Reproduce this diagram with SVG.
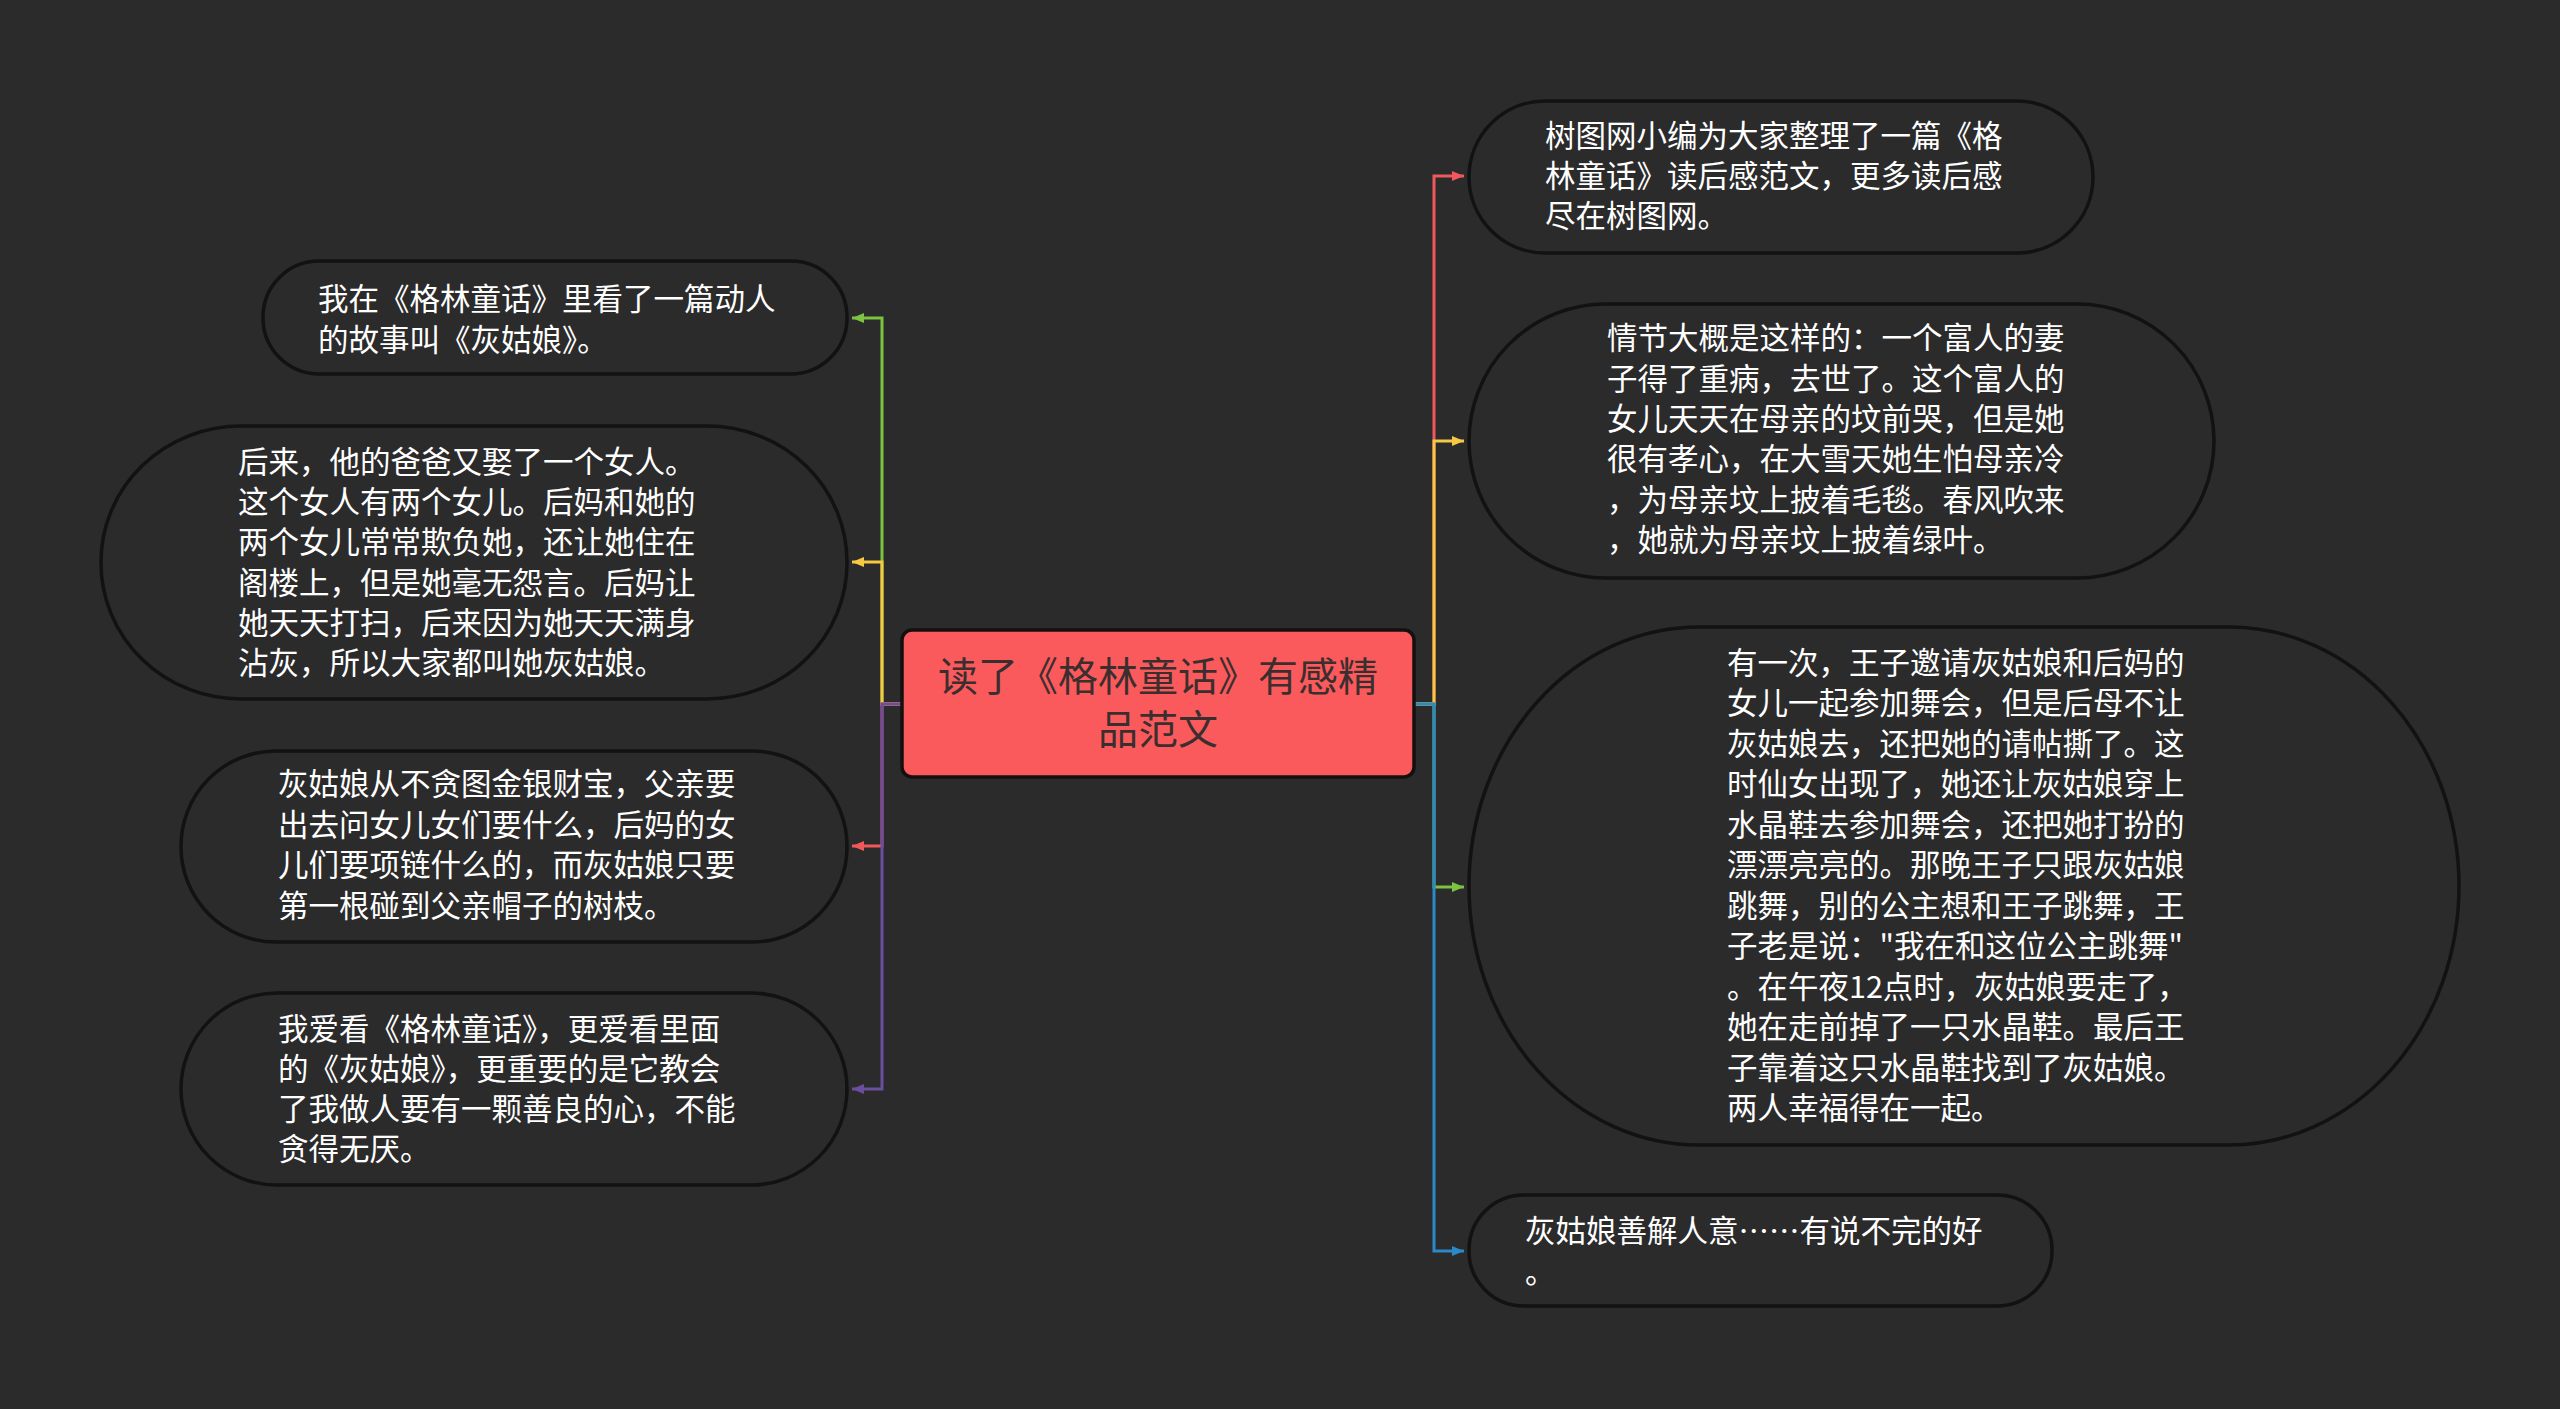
<svg xmlns="http://www.w3.org/2000/svg" width="2560" height="1409" viewBox="0 0 2560 1409">
<style>
.node{fill:#2b2b2b;stroke:#121212;stroke-width:3.5}
.t{font-family:"Noto Sans CJK SC","Noto Sans",sans-serif;font-size:30.5px;fill:#ffffff}
.ct{font-family:"Noto Sans CJK SC","Noto Sans",sans-serif;font-size:40px;fill:#3a2e2e;text-anchor:middle}
.c{fill:none;stroke-width:3}
</style>
<defs>
<marker id="aR" markerUnits="userSpaceOnUse" markerWidth="14" markerHeight="12" refX="12" refY="5" orient="auto"><path d="M0,0 L12,5 L0,10 z" fill="#f0595c"/></marker>
<marker id="aY" markerUnits="userSpaceOnUse" markerWidth="14" markerHeight="12" refX="12" refY="5" orient="auto"><path d="M0,0 L12,5 L0,10 z" fill="#f7c843"/></marker>
<marker id="aG" markerUnits="userSpaceOnUse" markerWidth="14" markerHeight="12" refX="12" refY="5" orient="auto"><path d="M0,0 L12,5 L0,10 z" fill="#7dc241"/></marker>
<marker id="aP" markerUnits="userSpaceOnUse" markerWidth="14" markerHeight="12" refX="12" refY="5" orient="auto"><path d="M0,0 L12,5 L0,10 z" fill="#6b4f9e"/></marker>
<marker id="aB" markerUnits="userSpaceOnUse" markerWidth="14" markerHeight="12" refX="12" refY="5" orient="auto"><path d="M0,0 L12,5 L0,10 z" fill="#2b88c9"/></marker>
</defs>
<rect width="2560" height="1409" fill="#2b2b2b"/>

<g id="connectors">
<path class="c" stroke="#7dc241" d="M902 704 H882 V318 H852" marker-end="url(#aG)"/>
<path class="c" stroke="#f7c843" d="M902 704 H882 V562 H852" marker-end="url(#aY)"/>
<path class="c" stroke="#f0595c" d="M902 704 H882 V846 H852" marker-end="url(#aR)"/>
<path class="c" stroke="#6b4f9e" d="M902 704 H882 V1089 H852" marker-end="url(#aP)"/>
<path class="c" stroke="#f0595c" d="M1414 704 H1434 V176 H1464" marker-end="url(#aR)"/>
<path class="c" stroke="#f7c843" d="M1414 704 H1434 V441 H1464" marker-end="url(#aY)"/>
<path class="c" stroke="#7dc241" d="M1414 704 H1434 V887 H1464" marker-end="url(#aG)"/>
<path class="c" stroke="#2b88c9" d="M1414 704 H1434 V1251 H1464" marker-end="url(#aB)"/>
</g>

<g id="center">
<rect x="902" y="630" width="512" height="147" rx="10" fill="#fb5a5c" stroke="#141010" stroke-width="3.5"/>
<text class="ct" x="1158" y="691">读了《格林童话》有感精</text>
<text class="ct" x="1158" y="744">品范文</text>
</g>

<g id="L1">
<rect class="node" x="263" y="261" width="584" height="113" rx="56" ry="56"/>
<text class="t" x="318" y="310">我在《格林童话》里看了一篇动人</text>
<text class="t" x="318" y="351">的故事叫《灰姑娘》。</text>
</g>

<g id="L2">
<rect class="node" x="101" y="426" width="746" height="273" rx="140" ry="136"/>
<text class="t" x="238" y="473">后来，他的爸爸又娶了一个女人。</text>
<text class="t" x="238" y="513">这个女人有两个女儿。后妈和她的</text>
<text class="t" x="238" y="553">两个女儿常常欺负她，还让她住在</text>
<text class="t" x="238" y="594">阁楼上，但是她毫无怨言。后妈让</text>
<text class="t" x="238" y="634">她天天打扫，后来因为她天天满身</text>
<text class="t" x="238" y="674">沾灰，所以大家都叫她灰姑娘。</text>
</g>

<g id="L3">
<rect class="node" x="181" y="751" width="666" height="191" rx="95" ry="95"/>
<text class="t" x="278" y="795">灰姑娘从不贪图金银财宝，父亲要</text>
<text class="t" x="278" y="836">出去问女儿女们要什么，后妈的女</text>
<text class="t" x="278" y="876">儿们要项链什么的，而灰姑娘只要</text>
<text class="t" x="278" y="917">第一根碰到父亲帽子的树枝。</text>
</g>

<g id="L4">
<rect class="node" x="181" y="993" width="666" height="192" rx="96" ry="96"/>
<text class="t" x="278" y="1040">我爱看《格林童话》，更爱看里面</text>
<text class="t" x="278" y="1080">的《灰姑娘》，更重要的是它教会</text>
<text class="t" x="278" y="1120">了我做人要有一颗善良的心，不能</text>
<text class="t" x="278" y="1160">贪得无厌。</text>
</g>

<g id="R1">
<rect class="node" x="1469" y="101" width="624" height="152" rx="76" ry="76"/>
<text class="t" x="1545" y="147">树图网小编为大家整理了一篇《格</text>
<text class="t" x="1545" y="187">林童话》读后感范文，更多读后感</text>
<text class="t" x="1545" y="227">尽在树图网。</text>
</g>

<g id="R2">
<rect class="node" x="1469" y="304" width="745" height="274" rx="137" ry="137"/>
<text class="t" x="1607" y="349">情节大概是这样的：一个富人的妻</text>
<text class="t" x="1607" y="390">子得了重病，去世了。这个富人的</text>
<text class="t" x="1607" y="430">女儿天天在母亲的坟前哭，但是她</text>
<text class="t" x="1607" y="470">很有孝心，在大雪天她生怕母亲冷</text>
<text class="t" x="1607" y="511">，为母亲坟上披着毛毯。春风吹来</text>
<text class="t" x="1607" y="551">，她就为母亲坟上披着绿叶。</text>
</g>

<g id="R3">
<rect class="node" x="1469" y="627" width="990" height="518" rx="230" ry="259"/>
<text class="t" x="1727" y="674">有一次，王子邀请灰姑娘和后妈的</text>
<text class="t" x="1727" y="714">女儿一起参加舞会，但是后母不让</text>
<text class="t" x="1727" y="755">灰姑娘去，还把她的请帖撕了。这</text>
<text class="t" x="1727" y="795">时仙女出现了，她还让灰姑娘穿上</text>
<text class="t" x="1727" y="836">水晶鞋去参加舞会，还把她打扮的</text>
<text class="t" x="1727" y="876">漂漂亮亮的。那晚王子只跟灰姑娘</text>
<text class="t" x="1727" y="917">跳舞，别的公主想和王子跳舞，王</text>
<text class="t" x="1727" y="957">子老是说："我在和这位公主跳舞"</text>
<text class="t" x="1727" y="998">。在午夜12点时，灰姑娘要走了，</text>
<text class="t" x="1727" y="1038">她在走前掉了一只水晶鞋。最后王</text>
<text class="t" x="1727" y="1079">子靠着这只水晶鞋找到了灰姑娘。</text>
<text class="t" x="1727" y="1119">两人幸福得在一起。</text>
</g>

<g id="R4">
<rect class="node" x="1469" y="1195" width="583" height="111" rx="55" ry="55"/>
<text class="t" x="1525" y="1242">灰姑娘善解人意……有说不完的好</text>
<text class="t" x="1525" y="1283">。</text>
</g>
</svg>
